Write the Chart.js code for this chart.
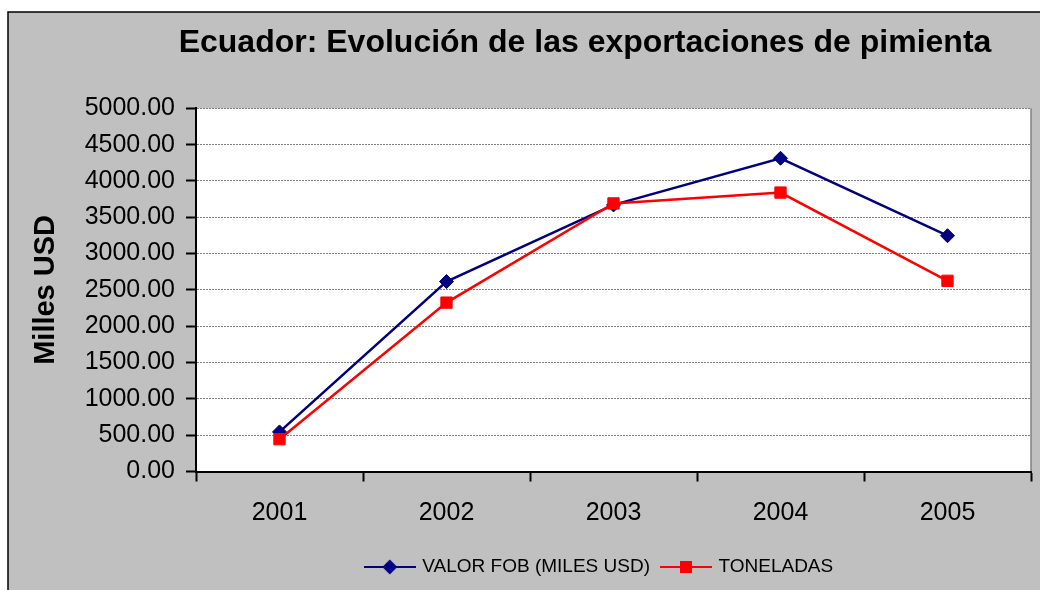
<!DOCTYPE html>
<html>
<head>
<meta charset="utf-8">
<script src="https://cdn.jsdelivr.net/npm/chart.js@4.4.1/dist/chart.umd.min.js"></script>
<style>
  html, body { margin: 0; padding: 0; background: #ffffff; }
  #c { display: block; }
</style>
</head>
<body>
<canvas id="c" width="1040" height="590"></canvas>
<script>
const categories = ['2001', '2002', '2003', '2004', '2005'];
const valorFob = [545, 2615, 3670, 4312, 3246];
const toneladas = [445, 2325, 3690, 3840, 2625];
const seriesNames = ['VALOR FOB (MILES USD)', 'TONELADAS'];
const chartTitle = 'Ecuador: Evolución de las exportaciones de pimienta';
const yAxisTitle = 'Milles USD';

const FONT = '"Liberation Sans", Arial, Helvetica, sans-serif';
const BLUE = '#000080';
const RED = '#ff0000';

function legendIcon(color, style) {
  const cv = document.createElement('canvas');
  cv.width = 52; cv.height = 18;
  const g = cv.getContext('2d');
  g.strokeStyle = color; g.lineWidth = 2;
  g.beginPath(); g.moveTo(0, 9); g.lineTo(52, 9); g.stroke();
  g.fillStyle = color;
  g.beginPath();
  if (style === 'diamond') {
    g.moveTo(26 - 7.5, 9); g.lineTo(26, 9 - 7.5); g.lineTo(26 + 7.5, 9); g.lineTo(26, 9 + 7.5);
    g.closePath();
  } else {
    g.rect(26 - 6, 9 - 6, 12, 12);
  }
  g.fill();
  return cv;
}

const framePlugin = {
  id: 'frame',
  afterLayout(chart) {
    const t = chart.titleBlock;
    if (t) { t.left += 69; t.right += 69; }
    const l = chart.legend;
    if (l) { l.left += 84; l.right += 84; }
  },
  beforeDraw(chart) {
    const ctx = chart.ctx;
    const a = chart.chartArea;
    ctx.save();
    ctx.fillStyle = '#ffffff';
    ctx.fillRect(0, 0, chart.width, chart.height);
    ctx.fillStyle = '#c0c0c0';
    ctx.fillRect(8, 12, chart.width, chart.height);
    ctx.strokeStyle = '#000000';
    ctx.lineWidth = 1.5;
    ctx.beginPath();
    ctx.moveTo(8, chart.height + 5); ctx.lineTo(8, 12); ctx.lineTo(chart.width + 5, 12);
    ctx.stroke();
    ctx.fillStyle = '#ffffff';
    ctx.fillRect(a.left, a.top, a.right - a.left, a.bottom - a.top);
    ctx.strokeStyle = '#808080';
    ctx.lineWidth = 1.5;
    ctx.beginPath();
    ctx.moveTo(a.right, a.top); ctx.lineTo(a.right, a.bottom);
    ctx.stroke();
    ctx.restore();
  }
};

new Chart(document.getElementById('c'), {
  type: 'line',
  data: {
    labels: categories,
    datasets: [
      {
        label: seriesNames[0],
        data: valorFob,
        borderColor: BLUE,
        backgroundColor: BLUE,
        borderWidth: 2.5,
        pointStyle: 'rectRot',
        pointRadius: 7,
        pointBorderWidth: 1,
        pointBackgroundColor: BLUE,
        pointBorderColor: BLUE,
        tension: 0,
        fill: false,
        order: 1
      },
      {
        label: seriesNames[1],
        data: toneladas,
        borderColor: RED,
        backgroundColor: RED,
        borderWidth: 2.5,
        pointStyle: 'rect',
        pointRadius: 8,
        pointBorderWidth: 1,
        pointBackgroundColor: RED,
        pointBorderColor: RED,
        tension: 0,
        fill: false,
        order: 0
      }
    ]
  },
  options: {
    responsive: false,
    animation: false,
    devicePixelRatio: 1,
    layout: { padding: { left: 0, right: 8, top: 0, bottom: 3.5 } },
    plugins: {
      tooltip: { enabled: false },
      title: {
        display: true,
        text: chartTitle,
        color: '#000000',
        font: { family: FONT, size: 32, weight: 'bold' },
        padding: { top: 24.3, bottom: 45.6 }
      },
      legend: {
        display: true,
        position: 'bottom',
        labels: {
          color: '#000000',
          font: { family: FONT, size: 19 },
          usePointStyle: true,
          pointStyleWidth: 46,
          padding: 13,
          sort: (a, b) => a.datasetIndex - b.datasetIndex,
          generateLabels: (chart) => chart.data.datasets.map((ds, i) => ({
            text: ds.label,
            datasetIndex: i,
            fontColor: '#000000',
            pointStyle: legendIcon(ds.borderColor, i === 0 ? 'diamond' : 'square'),
            hidden: false,
            lineWidth: 0,
            strokeStyle: ds.borderColor,
            fillStyle: ds.borderColor
          }))
        }
      }
    },
    scales: {
      x: {
        type: 'category',
        offset: true,
        afterFit: (s) => { s.height = 73; },
        grid: {
          display: true,
          offset: true,
          drawOnChartArea: false,
          drawTicks: true,
          tickLength: 10,
          tickColor: '#000000',
          tickWidth: 2
        },
        border: { display: true, color: '#000000', width: 2 },
        ticks: {
          color: '#000000',
          font: { family: FONT, size: 25 },
          padding: 17,
          maxRotation: 0,
          autoSkip: false
        }
      },
      y: {
        min: 0,
        max: 5000,
        afterFit: (s) => { s.width = 196; },
        grid: {
          display: true,
          color: '#808080',
          lineWidth: 1,
          drawOnChartArea: true,
          drawTicks: true,
          tickLength: 10,
          tickColor: '#000000',
          tickWidth: 2
        },
        border: { display: true, color: '#000000', width: 2, dash: [2, 1] },
        ticks: {
          stepSize: 500,
          color: '#000000',
          font: { family: FONT, size: 25 },
          padding: 11,
          callback: (v) => Number(v).toFixed(2)
        },
        title: {
          display: true,
          text: yAxisTitle,
          color: '#000000',
          font: { family: FONT, size: 29, weight: 'bold' },
          padding: { top: 29, bottom: 0 }
        }
      }
    }
  },
  plugins: [framePlugin]
});
</script>
</body>
</html>
